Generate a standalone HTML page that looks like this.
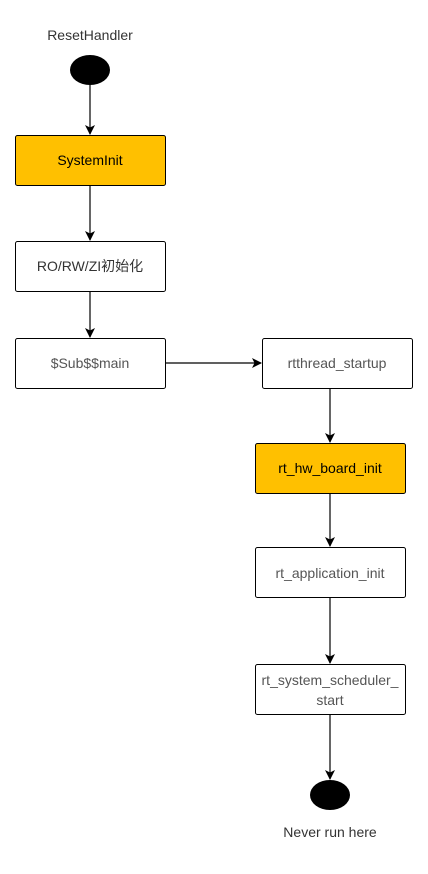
<!DOCTYPE html>
<html><head><style>body{margin:0;background:#fff}</style></head><body>
<svg width="428" height="869" xmlns="http://www.w3.org/2000/svg" font-family="Liberation Sans, Noto Sans CJK SC, sans-serif" font-size="14">
<defs><marker id="a" markerWidth="10" markerHeight="10" refX="9" refY="5" orient="auto" markerUnits="userSpaceOnUse"><path d="M0,0 L10,5 L0,10 L2.5,5 z" fill="#000"/></marker></defs>
<g fill="none" stroke="#000" stroke-width="1.2">
<line x1="90" y1="85" x2="90" y2="134" marker-end="url(#a)"/>
<line x1="90" y1="185" x2="90" y2="240" marker-end="url(#a)"/>
<line x1="90" y1="291" x2="90" y2="337" marker-end="url(#a)"/>
<line x1="165" y1="363" x2="261" y2="363" marker-end="url(#a)"/>
<line x1="330" y1="388" x2="330" y2="442" marker-end="url(#a)"/>
<line x1="330" y1="493" x2="330" y2="546" marker-end="url(#a)"/>
<line x1="330" y1="597" x2="330" y2="663" marker-end="url(#a)"/>
<line x1="330" y1="714" x2="330" y2="779" marker-end="url(#a)"/>
</g>
<ellipse cx="90" cy="70" rx="20" ry="15" fill="#000"/>
<ellipse cx="330" cy="795" rx="20" ry="15" fill="#000"/>
<g stroke="#000" stroke-width="1">
<rect x="15.5" y="135.5" width="150" height="50" rx="2" fill="#ffc000"/>
<rect x="15.5" y="241.5" width="150" height="50" rx="2" fill="#fff"/>
<rect x="15.5" y="338.5" width="150" height="50" rx="2" fill="#fff"/>
<rect x="262.5" y="338.5" width="150" height="50" rx="2" fill="#fff"/>
<rect x="255.5" y="443.5" width="150" height="50" rx="2" fill="#ffc000"/>
<rect x="255.5" y="547.5" width="150" height="50" rx="2" fill="#fff"/>
<rect x="255.5" y="664.5" width="150" height="50" rx="2" fill="#fff"/>
</g>
<g text-anchor="middle" fill="#333">
<text x="90" y="40">ResetHandler</text>
<text x="90" y="165" fill="#000">SystemInit</text>
<text x="90" y="271">RO/RW/ZI初始化</text>
<text x="90" y="368" fill="#555">$Sub$$main</text>
<text x="337" y="368" fill="#555">rtthread_startup</text>
<text x="330" y="473" fill="#000">rt_hw_board_init</text>
<text x="330" y="578" fill="#555">rt_application_init</text>
<text x="330" y="685" fill="#555">rt_system_scheduler_</text>
<text x="330" y="705" fill="#555">start</text>
<text x="330" y="837">Never run here</text>
</g>
</svg>
</body></html>
